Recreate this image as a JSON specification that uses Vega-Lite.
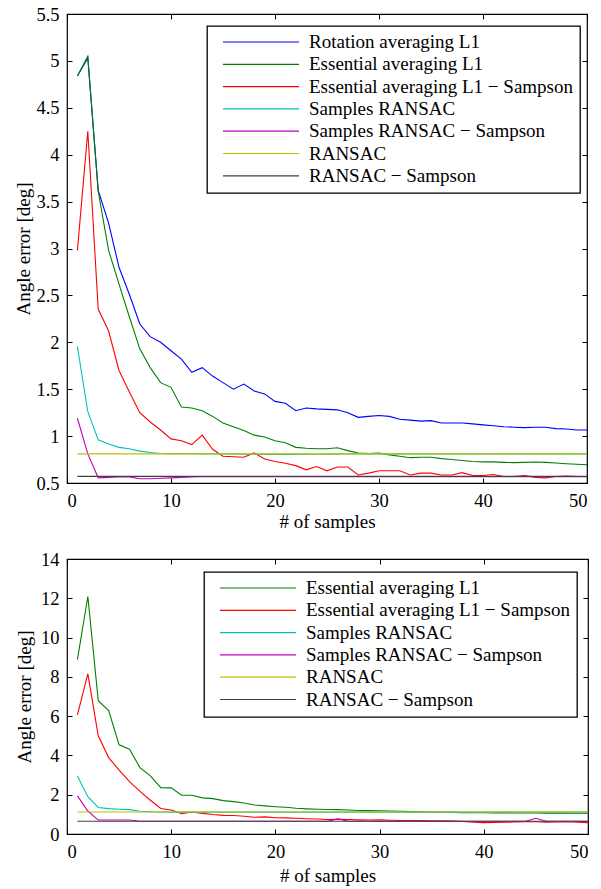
{
  "$schema": "https://vega.github.io/schema/vega-lite/v6.json",
  "padding": {"left": 14, "top": 4, "right": 5, "bottom": 2},
  "spacing": 16,
  "config": {
    "font": "Liberation Serif",
    "view": {"stroke": "black", "strokeWidth": 1.2},
    "axis": {"domain": false, "grid": false, "ticks": true, "tickColor": "black", "tickSize": -5, "tickWidth": 1,
      "labelFont": "Liberation Serif", "labelFontSize": 18.5, "labelColor": "black", "labelPadding": 13,
      "titleFont": "Liberation Serif", "titleFontSize": 19, "titleFontWeight": "normal", "titleColor": "black"},
    "legend": {"orient": "none", "symbolType": "stroke", "symbolSize": 5776, "symbolStrokeWidth": 1.2,
      "labelFont": "Liberation Serif", "labelFontSize": 19, "labelColor": "black", "strokeColor": "black", "strokeWidth": 1.3,
      "fillColor": "white", "padding": 7, "rowPadding": 3.3, "clipHeight": 18, "labelOffset": 9, "symbolOffset": 8, "labelLimit": 500}
  },
  "datasets": {
    "top": [
      {"s":"A","n":1,"v":4.84},{"s":"A","n":2,"v":5.03},{"s":"A","n":3,"v":3.62},{"s":"A","n":4,"v":3.27},{"s":"A","n":5,"v":2.80},{"s":"A","n":6,"v":2.51},{"s":"A","n":7,"v":2.195},{"s":"A","n":8,"v":2.06},{"s":"A","n":9,"v":2.0},{"s":"A","n":10,"v":1.91},
      {"s":"A","n":11,"v":1.82},{"s":"A","n":12,"v":1.68},{"s":"A","n":13,"v":1.73},{"s":"A","n":14,"v":1.64},{"s":"A","n":15,"v":1.57},{"s":"A","n":16,"v":1.50},{"s":"A","n":17,"v":1.555},{"s":"A","n":18,"v":1.48},{"s":"A","n":19,"v":1.45},{"s":"A","n":20,"v":1.37},
      {"s":"A","n":21,"v":1.35},{"s":"A","n":22,"v":1.27},{"s":"A","n":23,"v":1.30},{"s":"A","n":24,"v":1.29},{"s":"A","n":25,"v":1.285},{"s":"A","n":26,"v":1.28},{"s":"A","n":27,"v":1.25},{"s":"A","n":28,"v":1.20},{"s":"A","n":29,"v":1.21},{"s":"A","n":30,"v":1.22},
      {"s":"A","n":31,"v":1.21},{"s":"A","n":32,"v":1.18},{"s":"A","n":33,"v":1.17},{"s":"A","n":34,"v":1.16},{"s":"A","n":35,"v":1.165},{"s":"A","n":36,"v":1.14},{"s":"A","n":37,"v":1.14},{"s":"A","n":38,"v":1.14},{"s":"A","n":39,"v":1.13},{"s":"A","n":40,"v":1.12},
      {"s":"A","n":41,"v":1.11},{"s":"A","n":42,"v":1.10},{"s":"A","n":43,"v":1.095},{"s":"A","n":44,"v":1.09},{"s":"A","n":45,"v":1.095},{"s":"A","n":46,"v":1.095},{"s":"A","n":47,"v":1.08},{"s":"A","n":48,"v":1.075},{"s":"A","n":49,"v":1.065},{"s":"A","n":50,"v":1.065},

      {"s":"B","n":1,"v":4.84},{"s":"B","n":2,"v":5.05},{"s":"B","n":3,"v":3.61},{"s":"B","n":4,"v":2.98},{"s":"B","n":5,"v":2.62},{"s":"B","n":6,"v":2.27},{"s":"B","n":7,"v":1.93},{"s":"B","n":8,"v":1.73},{"s":"B","n":9,"v":1.57},{"s":"B","n":10,"v":1.52},
      {"s":"B","n":11,"v":1.31},{"s":"B","n":12,"v":1.30},{"s":"B","n":13,"v":1.27},{"s":"B","n":14,"v":1.21},{"s":"B","n":15,"v":1.14},{"s":"B","n":16,"v":1.10},{"s":"B","n":17,"v":1.06},{"s":"B","n":18,"v":1.01},{"s":"B","n":19,"v":0.99},{"s":"B","n":20,"v":0.95},
      {"s":"B","n":21,"v":0.93},{"s":"B","n":22,"v":0.88},{"s":"B","n":23,"v":0.87},{"s":"B","n":24,"v":0.865},{"s":"B","n":25,"v":0.865},{"s":"B","n":26,"v":0.875},{"s":"B","n":27,"v":0.845},{"s":"B","n":28,"v":0.82},{"s":"B","n":29,"v":0.815},{"s":"B","n":30,"v":0.82},
      {"s":"B","n":31,"v":0.80},{"s":"B","n":32,"v":0.785},{"s":"B","n":33,"v":0.77},{"s":"B","n":34,"v":0.775},{"s":"B","n":35,"v":0.775},{"s":"B","n":36,"v":0.76},{"s":"B","n":37,"v":0.75},{"s":"B","n":38,"v":0.74},{"s":"B","n":39,"v":0.73},{"s":"B","n":40,"v":0.725},
      {"s":"B","n":41,"v":0.725},{"s":"B","n":42,"v":0.72},{"s":"B","n":43,"v":0.717},{"s":"B","n":44,"v":0.72},{"s":"B","n":45,"v":0.724},{"s":"B","n":46,"v":0.72},{"s":"B","n":47,"v":0.713},{"s":"B","n":48,"v":0.706},{"s":"B","n":49,"v":0.70},{"s":"B","n":50,"v":0.695},

      {"s":"C","n":1,"v":2.98},{"s":"C","n":2,"v":4.25},{"s":"C","n":3,"v":2.355},{"s":"C","n":4,"v":2.12},{"s":"C","n":5,"v":1.70},{"s":"C","n":6,"v":1.47},{"s":"C","n":7,"v":1.25},{"s":"C","n":8,"v":1.15},{"s":"C","n":9,"v":1.065},{"s":"C","n":10,"v":0.97},
      {"s":"C","n":11,"v":0.95},{"s":"C","n":12,"v":0.91},{"s":"C","n":13,"v":1.01},{"s":"C","n":14,"v":0.86},{"s":"C","n":15,"v":0.785},{"s":"C","n":16,"v":0.78},{"s":"C","n":17,"v":0.775},{"s":"C","n":18,"v":0.82},{"s":"C","n":19,"v":0.755},{"s":"C","n":20,"v":0.73},
      {"s":"C","n":21,"v":0.71},{"s":"C","n":22,"v":0.685},{"s":"C","n":23,"v":0.64},{"s":"C","n":24,"v":0.675},{"s":"C","n":25,"v":0.63},{"s":"C","n":26,"v":0.67},{"s":"C","n":27,"v":0.67},{"s":"C","n":28,"v":0.585},{"s":"C","n":29,"v":0.605},{"s":"C","n":30,"v":0.63},
      {"s":"C","n":31,"v":0.63},{"s":"C","n":32,"v":0.63},{"s":"C","n":33,"v":0.585},{"s":"C","n":34,"v":0.605},{"s":"C","n":35,"v":0.605},{"s":"C","n":36,"v":0.585},{"s":"C","n":37,"v":0.585},{"s":"C","n":38,"v":0.61},{"s":"C","n":39,"v":0.58},{"s":"C","n":40,"v":0.58},
      {"s":"C","n":41,"v":0.59},{"s":"C","n":42,"v":0.57},{"s":"C","n":43,"v":0.57},{"s":"C","n":44,"v":0.58},{"s":"C","n":45,"v":0.56},{"s":"C","n":46,"v":0.555},{"s":"C","n":47,"v":0.57},{"s":"C","n":48,"v":0.575},{"s":"C","n":49,"v":0.57},{"s":"C","n":50,"v":0.57},

      {"s":"D","n":1,"v":1.955},{"s":"D","n":2,"v":1.26},{"s":"D","n":3,"v":0.96},{"s":"D","n":4,"v":0.915},{"s":"D","n":5,"v":0.88},{"s":"D","n":6,"v":0.865},{"s":"D","n":7,"v":0.84},{"s":"D","n":8,"v":0.825},{"s":"D","n":9,"v":0.815},{"s":"D","n":10,"v":0.81},
      {"s":"D","n":11,"v":0.815},{"s":"D","n":12,"v":0.812},{"s":"D","n":13,"v":0.81},{"s":"D","n":14,"v":0.81},{"s":"D","n":15,"v":0.81},{"s":"D","n":16,"v":0.81},{"s":"D","n":17,"v":0.808},{"s":"D","n":18,"v":0.806},{"s":"D","n":19,"v":0.805},{"s":"D","n":20,"v":0.805},
      {"s":"D","n":21,"v":0.805},{"s":"D","n":22,"v":0.805},{"s":"D","n":23,"v":0.806},{"s":"D","n":24,"v":0.807},{"s":"D","n":25,"v":0.808},{"s":"D","n":26,"v":0.808},{"s":"D","n":27,"v":0.809},{"s":"D","n":28,"v":0.81},{"s":"D","n":29,"v":0.81},{"s":"D","n":30,"v":0.81},
      {"s":"D","n":31,"v":0.81},{"s":"D","n":32,"v":0.81},{"s":"D","n":33,"v":0.81},{"s":"D","n":34,"v":0.81},{"s":"D","n":35,"v":0.81},{"s":"D","n":36,"v":0.81},{"s":"D","n":37,"v":0.81},{"s":"D","n":38,"v":0.81},{"s":"D","n":39,"v":0.81},{"s":"D","n":40,"v":0.81},
      {"s":"D","n":41,"v":0.81},{"s":"D","n":42,"v":0.81},{"s":"D","n":43,"v":0.81},{"s":"D","n":44,"v":0.81},{"s":"D","n":45,"v":0.81},{"s":"D","n":46,"v":0.81},{"s":"D","n":47,"v":0.81},{"s":"D","n":48,"v":0.81},{"s":"D","n":49,"v":0.81},{"s":"D","n":50,"v":0.81},

      {"s":"E","n":1,"v":1.19},{"s":"E","n":2,"v":0.81},{"s":"E","n":3,"v":0.555},{"s":"E","n":4,"v":0.56},{"s":"E","n":5,"v":0.565},{"s":"E","n":6,"v":0.565},{"s":"E","n":7,"v":0.545},{"s":"E","n":8,"v":0.545},{"s":"E","n":9,"v":0.55},{"s":"E","n":10,"v":0.555},
      {"s":"E","n":11,"v":0.56},{"s":"E","n":12,"v":0.565},{"s":"E","n":13,"v":0.568},{"s":"E","n":14,"v":0.568},{"s":"E","n":15,"v":0.568},{"s":"E","n":16,"v":0.568},{"s":"E","n":17,"v":0.568},{"s":"E","n":18,"v":0.568},{"s":"E","n":19,"v":0.568},{"s":"E","n":20,"v":0.568},
      {"s":"E","n":21,"v":0.568},{"s":"E","n":22,"v":0.568},{"s":"E","n":23,"v":0.568},{"s":"E","n":24,"v":0.568},{"s":"E","n":25,"v":0.568},{"s":"E","n":26,"v":0.568},{"s":"E","n":27,"v":0.568},{"s":"E","n":28,"v":0.568},{"s":"E","n":29,"v":0.568},{"s":"E","n":30,"v":0.568},
      {"s":"E","n":31,"v":0.568},{"s":"E","n":32,"v":0.568},{"s":"E","n":33,"v":0.568},{"s":"E","n":34,"v":0.568},{"s":"E","n":35,"v":0.568},{"s":"E","n":36,"v":0.568},{"s":"E","n":37,"v":0.568},{"s":"E","n":38,"v":0.568},{"s":"E","n":39,"v":0.568},{"s":"E","n":40,"v":0.568},
      {"s":"E","n":41,"v":0.568},{"s":"E","n":42,"v":0.568},{"s":"E","n":43,"v":0.568},{"s":"E","n":44,"v":0.568},{"s":"E","n":45,"v":0.568},{"s":"E","n":46,"v":0.568},{"s":"E","n":47,"v":0.568},{"s":"E","n":48,"v":0.568},{"s":"E","n":49,"v":0.568},{"s":"E","n":50,"v":0.568},

      {"s":"F","n":1,"v":0.81},{"s":"F","n":2,"v":0.81},{"s":"F","n":3,"v":0.81},{"s":"F","n":4,"v":0.81},{"s":"F","n":5,"v":0.81},{"s":"F","n":6,"v":0.81},{"s":"F","n":7,"v":0.81},{"s":"F","n":8,"v":0.81},{"s":"F","n":9,"v":0.81},{"s":"F","n":10,"v":0.81},
      {"s":"F","n":11,"v":0.81},{"s":"F","n":12,"v":0.81},{"s":"F","n":13,"v":0.81},{"s":"F","n":14,"v":0.81},{"s":"F","n":15,"v":0.81},{"s":"F","n":16,"v":0.81},{"s":"F","n":17,"v":0.81},{"s":"F","n":18,"v":0.81},{"s":"F","n":19,"v":0.81},{"s":"F","n":20,"v":0.81},
      {"s":"F","n":21,"v":0.81},{"s":"F","n":22,"v":0.81},{"s":"F","n":23,"v":0.81},{"s":"F","n":24,"v":0.81},{"s":"F","n":25,"v":0.81},{"s":"F","n":26,"v":0.81},{"s":"F","n":27,"v":0.81},{"s":"F","n":28,"v":0.81},{"s":"F","n":29,"v":0.81},{"s":"F","n":30,"v":0.81},
      {"s":"F","n":31,"v":0.81},{"s":"F","n":32,"v":0.81},{"s":"F","n":33,"v":0.81},{"s":"F","n":34,"v":0.81},{"s":"F","n":35,"v":0.81},{"s":"F","n":36,"v":0.81},{"s":"F","n":37,"v":0.81},{"s":"F","n":38,"v":0.81},{"s":"F","n":39,"v":0.81},{"s":"F","n":40,"v":0.81},
      {"s":"F","n":41,"v":0.81},{"s":"F","n":42,"v":0.81},{"s":"F","n":43,"v":0.81},{"s":"F","n":44,"v":0.81},{"s":"F","n":45,"v":0.81},{"s":"F","n":46,"v":0.81},{"s":"F","n":47,"v":0.81},{"s":"F","n":48,"v":0.81},{"s":"F","n":49,"v":0.81},{"s":"F","n":50,"v":0.81},

      {"s":"G","n":1,"v":0.571},{"s":"G","n":2,"v":0.571},{"s":"G","n":3,"v":0.571},{"s":"G","n":4,"v":0.571},{"s":"G","n":5,"v":0.571},{"s":"G","n":6,"v":0.571},{"s":"G","n":7,"v":0.571},{"s":"G","n":8,"v":0.571},{"s":"G","n":9,"v":0.571},{"s":"G","n":10,"v":0.571},
      {"s":"G","n":11,"v":0.571},{"s":"G","n":12,"v":0.571},{"s":"G","n":13,"v":0.571},{"s":"G","n":14,"v":0.571},{"s":"G","n":15,"v":0.571},{"s":"G","n":16,"v":0.571},{"s":"G","n":17,"v":0.571},{"s":"G","n":18,"v":0.571},{"s":"G","n":19,"v":0.571},{"s":"G","n":20,"v":0.571},
      {"s":"G","n":21,"v":0.571},{"s":"G","n":22,"v":0.571},{"s":"G","n":23,"v":0.571},{"s":"G","n":24,"v":0.571},{"s":"G","n":25,"v":0.571},{"s":"G","n":26,"v":0.571},{"s":"G","n":27,"v":0.571},{"s":"G","n":28,"v":0.571},{"s":"G","n":29,"v":0.571},{"s":"G","n":30,"v":0.571},
      {"s":"G","n":31,"v":0.571},{"s":"G","n":32,"v":0.571},{"s":"G","n":33,"v":0.571},{"s":"G","n":34,"v":0.571},{"s":"G","n":35,"v":0.571},{"s":"G","n":36,"v":0.571},{"s":"G","n":37,"v":0.571},{"s":"G","n":38,"v":0.571},{"s":"G","n":39,"v":0.571},{"s":"G","n":40,"v":0.571},
      {"s":"G","n":41,"v":0.571},{"s":"G","n":42,"v":0.571},{"s":"G","n":43,"v":0.571},{"s":"G","n":44,"v":0.571},{"s":"G","n":45,"v":0.571},{"s":"G","n":46,"v":0.571},{"s":"G","n":47,"v":0.571},{"s":"G","n":48,"v":0.571},{"s":"G","n":49,"v":0.571},{"s":"G","n":50,"v":0.571}
    ],
    "bottom": [
      {"s":"B","n":1,"v":8.88},{"s":"B","n":2,"v":12.09},{"s":"B","n":3,"v":6.79},{"s":"B","n":4,"v":6.28},{"s":"B","n":5,"v":4.54},{"s":"B","n":6,"v":4.32},{"s":"B","n":7,"v":3.38},{"s":"B","n":8,"v":2.96},{"s":"B","n":9,"v":2.36},{"s":"B","n":10,"v":2.35},
      {"s":"B","n":11,"v":1.97},{"s":"B","n":12,"v":1.97},{"s":"B","n":13,"v":1.84},{"s":"B","n":14,"v":1.80},{"s":"B","n":15,"v":1.70},{"s":"B","n":16,"v":1.65},{"s":"B","n":17,"v":1.58},{"s":"B","n":18,"v":1.48},{"s":"B","n":19,"v":1.43},{"s":"B","n":20,"v":1.39},
      {"s":"B","n":21,"v":1.36},{"s":"B","n":22,"v":1.31},{"s":"B","n":23,"v":1.28},{"s":"B","n":24,"v":1.26},{"s":"B","n":25,"v":1.25},{"s":"B","n":26,"v":1.24},{"s":"B","n":27,"v":1.22},{"s":"B","n":28,"v":1.20},{"s":"B","n":29,"v":1.19},{"s":"B","n":30,"v":1.18},
      {"s":"B","n":31,"v":1.17},{"s":"B","n":32,"v":1.16},{"s":"B","n":33,"v":1.14},{"s":"B","n":34,"v":1.13},{"s":"B","n":35,"v":1.12},{"s":"B","n":36,"v":1.11},{"s":"B","n":37,"v":1.10},{"s":"B","n":38,"v":1.09},{"s":"B","n":39,"v":1.085},{"s":"B","n":40,"v":1.08},
      {"s":"B","n":41,"v":1.075},{"s":"B","n":42,"v":1.075},{"s":"B","n":43,"v":1.07},{"s":"B","n":44,"v":1.07},{"s":"B","n":45,"v":1.07},{"s":"B","n":46,"v":1.065},{"s":"B","n":47,"v":1.065},{"s":"B","n":48,"v":1.06},{"s":"B","n":49,"v":1.06},{"s":"B","n":50,"v":1.06},

      {"s":"C","n":1,"v":6.07},{"s":"C","n":2,"v":8.15},{"s":"C","n":3,"v":5.0},{"s":"C","n":4,"v":3.89},{"s":"C","n":5,"v":3.25},{"s":"C","n":6,"v":2.67},{"s":"C","n":7,"v":2.17},{"s":"C","n":8,"v":1.72},{"s":"C","n":9,"v":1.30},{"s":"C","n":10,"v":1.22},
      {"s":"C","n":11,"v":1.04},{"s":"C","n":12,"v":1.12},{"s":"C","n":13,"v":1.05},{"s":"C","n":14,"v":0.99},{"s":"C","n":15,"v":0.95},{"s":"C","n":16,"v":0.94},{"s":"C","n":17,"v":0.90},{"s":"C","n":18,"v":0.85},{"s":"C","n":19,"v":0.87},{"s":"C","n":20,"v":0.83},
      {"s":"C","n":21,"v":0.82},{"s":"C","n":22,"v":0.80},{"s":"C","n":23,"v":0.78},{"s":"C","n":24,"v":0.76},{"s":"C","n":25,"v":0.74},{"s":"C","n":26,"v":0.75},{"s":"C","n":27,"v":0.74},{"s":"C","n":28,"v":0.72},{"s":"C","n":29,"v":0.71},{"s":"C","n":30,"v":0.72},
      {"s":"C","n":31,"v":0.70},{"s":"C","n":32,"v":0.69},{"s":"C","n":33,"v":0.69},{"s":"C","n":34,"v":0.68},{"s":"C","n":35,"v":0.67},{"s":"C","n":36,"v":0.67},{"s":"C","n":37,"v":0.66},{"s":"C","n":38,"v":0.64},{"s":"C","n":39,"v":0.60},{"s":"C","n":40,"v":0.58},
      {"s":"C","n":41,"v":0.59},{"s":"C","n":42,"v":0.60},{"s":"C","n":43,"v":0.61},{"s":"C","n":44,"v":0.63},{"s":"C","n":45,"v":0.62},{"s":"C","n":46,"v":0.60},{"s":"C","n":47,"v":0.61},{"s":"C","n":48,"v":0.62},{"s":"C","n":49,"v":0.60},{"s":"C","n":50,"v":0.58},

      {"s":"D","n":1,"v":2.95},{"s":"D","n":2,"v":1.90},{"s":"D","n":3,"v":1.35},{"s":"D","n":4,"v":1.29},{"s":"D","n":5,"v":1.26},{"s":"D","n":6,"v":1.24},{"s":"D","n":7,"v":1.16},{"s":"D","n":8,"v":1.13},{"s":"D","n":9,"v":1.12},{"s":"D","n":10,"v":1.115},
      {"s":"D","n":11,"v":1.115},{"s":"D","n":12,"v":1.115},{"s":"D","n":13,"v":1.115},{"s":"D","n":14,"v":1.115},{"s":"D","n":15,"v":1.115},{"s":"D","n":16,"v":1.115},{"s":"D","n":17,"v":1.115},{"s":"D","n":18,"v":1.115},{"s":"D","n":19,"v":1.115},{"s":"D","n":20,"v":1.115},
      {"s":"D","n":21,"v":1.115},{"s":"D","n":22,"v":1.115},{"s":"D","n":23,"v":1.115},{"s":"D","n":24,"v":1.115},{"s":"D","n":25,"v":1.115},{"s":"D","n":26,"v":1.115},{"s":"D","n":27,"v":1.115},{"s":"D","n":28,"v":1.115},{"s":"D","n":29,"v":1.115},{"s":"D","n":30,"v":1.115},
      {"s":"D","n":31,"v":1.115},{"s":"D","n":32,"v":1.115},{"s":"D","n":33,"v":1.115},{"s":"D","n":34,"v":1.115},{"s":"D","n":35,"v":1.115},{"s":"D","n":36,"v":1.115},{"s":"D","n":37,"v":1.115},{"s":"D","n":38,"v":1.115},{"s":"D","n":39,"v":1.115},{"s":"D","n":40,"v":1.115},
      {"s":"D","n":41,"v":1.115},{"s":"D","n":42,"v":1.115},{"s":"D","n":43,"v":1.115},{"s":"D","n":44,"v":1.115},{"s":"D","n":45,"v":1.115},{"s":"D","n":46,"v":1.115},{"s":"D","n":47,"v":1.115},{"s":"D","n":48,"v":1.115},{"s":"D","n":49,"v":1.115},{"s":"D","n":50,"v":1.115},

      {"s":"E","n":1,"v":1.94},{"s":"E","n":2,"v":1.17},{"s":"E","n":3,"v":0.71},{"s":"E","n":4,"v":0.71},{"s":"E","n":5,"v":0.71},{"s":"E","n":6,"v":0.71},{"s":"E","n":7,"v":0.65},{"s":"E","n":8,"v":0.65},{"s":"E","n":9,"v":0.65},{"s":"E","n":10,"v":0.65},
      {"s":"E","n":11,"v":0.65},{"s":"E","n":12,"v":0.65},{"s":"E","n":13,"v":0.65},{"s":"E","n":14,"v":0.65},{"s":"E","n":15,"v":0.65},{"s":"E","n":16,"v":0.65},{"s":"E","n":17,"v":0.65},{"s":"E","n":18,"v":0.65},{"s":"E","n":19,"v":0.65},{"s":"E","n":20,"v":0.65},
      {"s":"E","n":21,"v":0.65},{"s":"E","n":22,"v":0.65},{"s":"E","n":23,"v":0.65},{"s":"E","n":24,"v":0.65},{"s":"E","n":25,"v":0.65},{"s":"E","n":26,"v":0.77},{"s":"E","n":27,"v":0.65},{"s":"E","n":28,"v":0.65},{"s":"E","n":29,"v":0.65},{"s":"E","n":30,"v":0.65},
      {"s":"E","n":31,"v":0.65},{"s":"E","n":32,"v":0.65},{"s":"E","n":33,"v":0.65},{"s":"E","n":34,"v":0.65},{"s":"E","n":35,"v":0.65},{"s":"E","n":36,"v":0.65},{"s":"E","n":37,"v":0.65},{"s":"E","n":38,"v":0.65},{"s":"E","n":39,"v":0.65},{"s":"E","n":40,"v":0.65},
      {"s":"E","n":41,"v":0.65},{"s":"E","n":42,"v":0.65},{"s":"E","n":43,"v":0.65},{"s":"E","n":44,"v":0.65},{"s":"E","n":45,"v":0.80},{"s":"E","n":46,"v":0.65},{"s":"E","n":47,"v":0.65},{"s":"E","n":48,"v":0.65},{"s":"E","n":49,"v":0.65},{"s":"E","n":50,"v":0.65},

      {"s":"F","n":1,"v":1.12},{"s":"F","n":2,"v":1.12},{"s":"F","n":3,"v":1.12},{"s":"F","n":4,"v":1.12},{"s":"F","n":5,"v":1.12},{"s":"F","n":6,"v":1.12},{"s":"F","n":7,"v":1.12},{"s":"F","n":8,"v":1.12},{"s":"F","n":9,"v":1.12},{"s":"F","n":10,"v":1.12},
      {"s":"F","n":11,"v":1.12},{"s":"F","n":12,"v":1.12},{"s":"F","n":13,"v":1.12},{"s":"F","n":14,"v":1.12},{"s":"F","n":15,"v":1.12},{"s":"F","n":16,"v":1.12},{"s":"F","n":17,"v":1.12},{"s":"F","n":18,"v":1.12},{"s":"F","n":19,"v":1.12},{"s":"F","n":20,"v":1.12},
      {"s":"F","n":21,"v":1.12},{"s":"F","n":22,"v":1.12},{"s":"F","n":23,"v":1.12},{"s":"F","n":24,"v":1.12},{"s":"F","n":25,"v":1.12},{"s":"F","n":26,"v":1.12},{"s":"F","n":27,"v":1.12},{"s":"F","n":28,"v":1.12},{"s":"F","n":29,"v":1.12},{"s":"F","n":30,"v":1.12},
      {"s":"F","n":31,"v":1.12},{"s":"F","n":32,"v":1.12},{"s":"F","n":33,"v":1.12},{"s":"F","n":34,"v":1.12},{"s":"F","n":35,"v":1.12},{"s":"F","n":36,"v":1.12},{"s":"F","n":37,"v":1.12},{"s":"F","n":38,"v":1.12},{"s":"F","n":39,"v":1.12},{"s":"F","n":40,"v":1.12},
      {"s":"F","n":41,"v":1.12},{"s":"F","n":42,"v":1.12},{"s":"F","n":43,"v":1.12},{"s":"F","n":44,"v":1.12},{"s":"F","n":45,"v":1.12},{"s":"F","n":46,"v":1.12},{"s":"F","n":47,"v":1.12},{"s":"F","n":48,"v":1.12},{"s":"F","n":49,"v":1.12},{"s":"F","n":50,"v":1.12},

      {"s":"G","n":1,"v":0.65},{"s":"G","n":2,"v":0.65},{"s":"G","n":3,"v":0.65},{"s":"G","n":4,"v":0.65},{"s":"G","n":5,"v":0.65},{"s":"G","n":6,"v":0.65},{"s":"G","n":7,"v":0.65},{"s":"G","n":8,"v":0.65},{"s":"G","n":9,"v":0.65},{"s":"G","n":10,"v":0.65},
      {"s":"G","n":11,"v":0.65},{"s":"G","n":12,"v":0.65},{"s":"G","n":13,"v":0.65},{"s":"G","n":14,"v":0.65},{"s":"G","n":15,"v":0.65},{"s":"G","n":16,"v":0.65},{"s":"G","n":17,"v":0.65},{"s":"G","n":18,"v":0.65},{"s":"G","n":19,"v":0.65},{"s":"G","n":20,"v":0.65},
      {"s":"G","n":21,"v":0.65},{"s":"G","n":22,"v":0.65},{"s":"G","n":23,"v":0.65},{"s":"G","n":24,"v":0.65},{"s":"G","n":25,"v":0.65},{"s":"G","n":26,"v":0.65},{"s":"G","n":27,"v":0.65},{"s":"G","n":28,"v":0.65},{"s":"G","n":29,"v":0.65},{"s":"G","n":30,"v":0.65},
      {"s":"G","n":31,"v":0.65},{"s":"G","n":32,"v":0.65},{"s":"G","n":33,"v":0.65},{"s":"G","n":34,"v":0.65},{"s":"G","n":35,"v":0.65},{"s":"G","n":36,"v":0.65},{"s":"G","n":37,"v":0.65},{"s":"G","n":38,"v":0.65},{"s":"G","n":39,"v":0.65},{"s":"G","n":40,"v":0.65},
      {"s":"G","n":41,"v":0.65},{"s":"G","n":42,"v":0.65},{"s":"G","n":43,"v":0.65},{"s":"G","n":44,"v":0.65},{"s":"G","n":45,"v":0.65},{"s":"G","n":46,"v":0.65},{"s":"G","n":47,"v":0.65},{"s":"G","n":48,"v":0.65},{"s":"G","n":49,"v":0.65},{"s":"G","n":50,"v":0.65}
    ]
  },
  "vconcat": [
    {
      "width": 520, "height": 469,
      "data": {"name": "top"},
      "layer": [
        {
          "mark": {"type": "line", "strokeWidth": 1.1, "clip": true},
          "encoding": {
            "x": {"field": "n", "type": "quantitative", "scale": {"domain": [0, 50], "nice": false, "zero": false},
              "axis": {"title": "# of samples", "values": [0, 10, 20, 30, 40, 50], "titlePadding": 3}},
            "y": {"field": "v", "type": "quantitative", "scale": {"domain": [0.5, 5.5], "nice": false, "zero": false},
              "axis": {"title": "Angle error [deg]", "values": [0.5, 1, 1.5, 2, 2.5, 3, 3.5, 4, 4.5, 5, 5.5], "format": "~g", "titlePadding": 2}},
            "color": {"field": "s", "type": "nominal",
              "scale": {"domain": ["A", "B", "C", "D", "E", "F", "G"], "range": ["#0000ff", "#008000", "#ff0000", "#00bfbf", "#bf00bf", "#bfbf00", "#404040"]},
              "legend": {"title": null, "legendX": 140, "legendY": 12,
                "labelExpr": "datum.label == 'A' ? 'Rotation averaging L1' : datum.label == 'B' ? 'Essential averaging L1' : datum.label == 'C' ? 'Essential averaging L1 − Sampson' : datum.label == 'D' ? 'Samples RANSAC' : datum.label == 'E' ? 'Samples RANSAC − Sampson' : datum.label == 'F' ? 'RANSAC' : 'RANSAC − Sampson'"}}
          }
        },
        {
          "mark": {"type": "line", "opacity": 0},
          "encoding": {
            "x": {"field": "n", "type": "quantitative", "axis": {"orient": "top", "labels": false, "title": null, "values": [0, 10, 20, 30, 40, 50]}},
            "y": {"field": "v", "type": "quantitative", "axis": {"orient": "right", "labels": false, "title": null, "values": [0.5, 1, 1.5, 2, 2.5, 3, 3.5, 4, 4.5, 5, 5.5]}},
            "detail": {"field": "s"}
          }
        }
      ],
      "resolve": {"axis": {"x": "independent", "y": "independent"}}
    },
    {
      "width": 521, "height": 275,
      "data": {"name": "bottom"},
      "layer": [
        {
          "mark": {"type": "line", "strokeWidth": 1.1, "clip": true},
          "encoding": {
            "x": {"field": "n", "type": "quantitative", "scale": {"domain": [0, 50], "nice": false, "zero": false},
              "axis": {"title": "# of samples", "values": [0, 10, 20, 30, 40, 50], "titlePadding": 6}},
            "y": {"field": "v", "type": "quantitative", "scale": {"domain": [0, 14], "nice": false},
              "axis": {"title": "Angle error [deg]", "values": [0, 2, 4, 6, 8, 10, 12, 14], "titlePadding": 6}},
            "color": {"field": "s", "type": "nominal",
              "scale": {"domain": ["B", "C", "D", "E", "F", "G"], "range": ["#008000", "#ff0000", "#00bfbf", "#bf00bf", "#bfbf00", "#404040"]},
              "legend": {"title": null, "legendX": 137, "legendY": 13,
                "labelExpr": "datum.label == 'B' ? 'Essential averaging L1' : datum.label == 'C' ? 'Essential averaging L1 − Sampson' : datum.label == 'D' ? 'Samples RANSAC' : datum.label == 'E' ? 'Samples RANSAC − Sampson' : datum.label == 'F' ? 'RANSAC' : 'RANSAC − Sampson'"}}
          }
        },
        {
          "mark": {"type": "line", "opacity": 0},
          "encoding": {
            "x": {"field": "n", "type": "quantitative", "axis": {"orient": "top", "labels": false, "title": null, "values": [0, 10, 20, 30, 40, 50]}},
            "y": {"field": "v", "type": "quantitative", "axis": {"orient": "right", "labels": false, "title": null, "values": [0, 2, 4, 6, 8, 10, 12, 14]}},
            "detail": {"field": "s"}
          }
        }
      ],
      "resolve": {"axis": {"x": "independent", "y": "independent"}}
    }
  ],
  "resolve": {"scale": {"color": "independent"}}
}
